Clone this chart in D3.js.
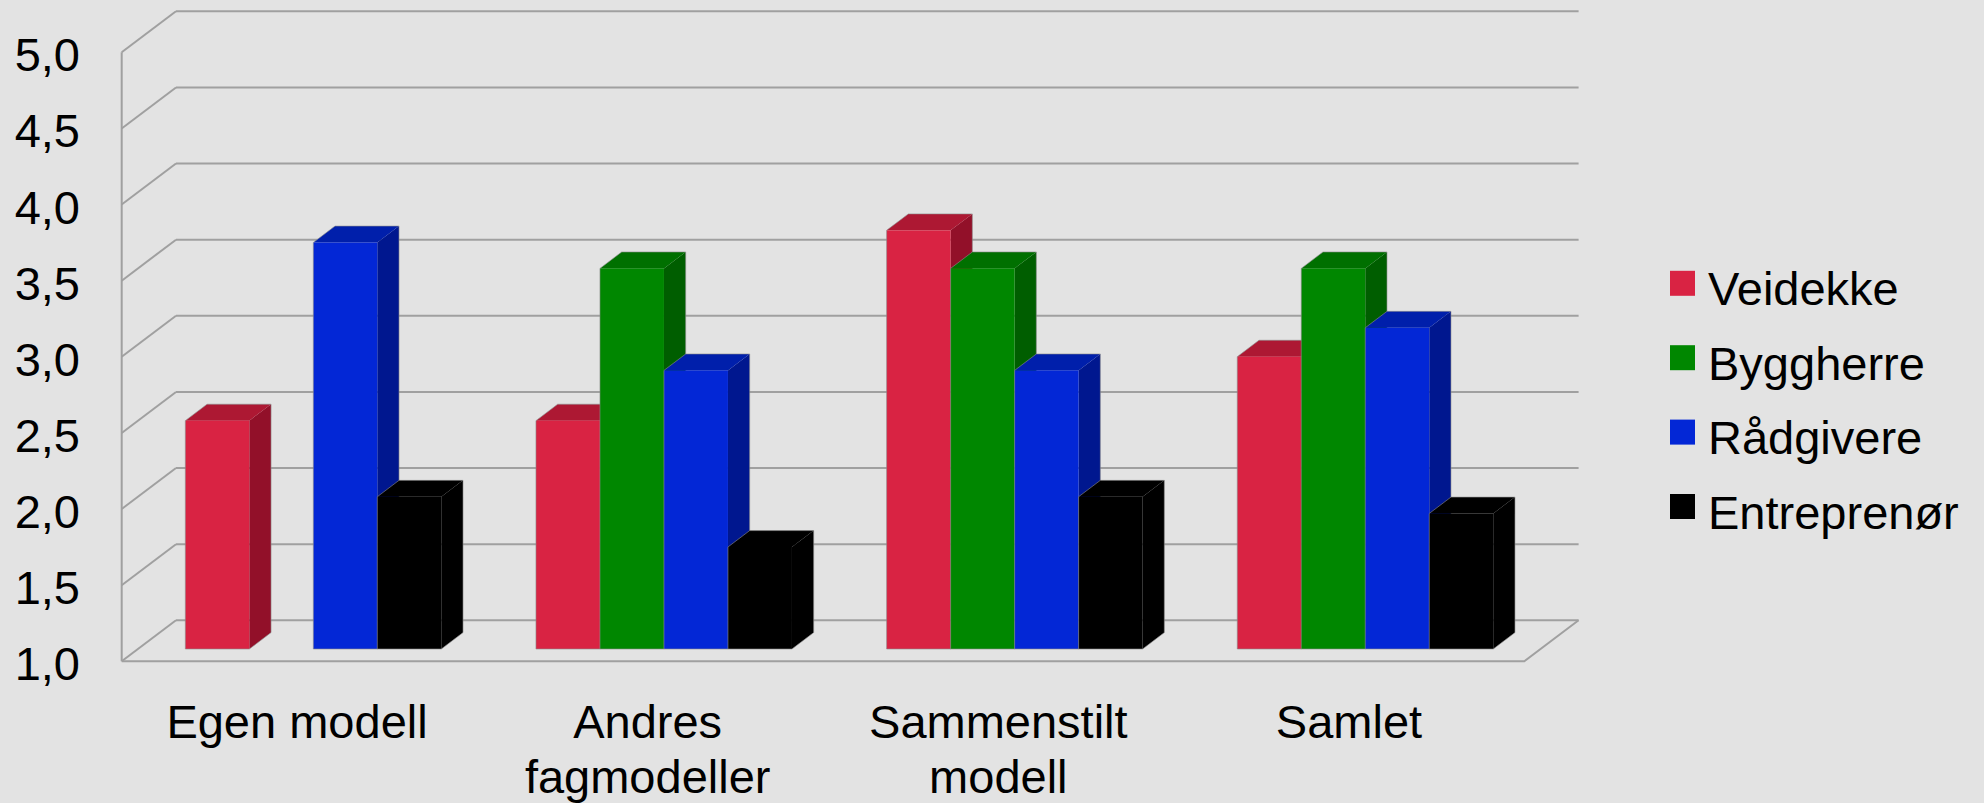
<!DOCTYPE html>
<html>
<head>
<meta charset="utf-8">
<script src="https://cdn.jsdelivr.net/npm/d3@7"></script>
<style>
  html, body { margin: 0; padding: 0; background: #e3e3e3; }
  svg { display: block; font-family: "Liberation Sans", Arial, sans-serif; }
</style>
</head>
<body>
<svg id="chart" width="1984" height="803"></svg>
<script>
// Categories (two-line labels split on "\n") and series
const categories = ["Egen modell", "Andres\nfagmodeller", "Sammenstilt\nmodell", "Samlet"];
const seriesNames = ["Veidekke", "Byggherre", "Rådgivere", "Entreprenør"];

// Average scores per series, one entry per category (null = no bar)
const veidekke    = [2.50, 2.50, 3.75, 2.92];
const byggherre   = [null, 3.50, 3.50, 3.50];
const radgivere   = [3.67, 2.83, 2.83, 3.11];
const entreprenor = [2.00, 1.67, 2.00, 1.89];

const yTicks = [1.0, 1.5, 2.0, 2.5, 3.0, 3.5, 4.0, 4.5, 5.0];

const seriesValues = [veidekke, byggherre, radgivere, entreprenor];

// Face colours: front, top, side
const palette = {
  "Veidekke":    { front: "#d92343", top: "#ad1833", side: "#921029" },
  "Byggherre":   { front: "#008700", top: "#007000", side: "#005e00" },
  "Rådgivere":   { front: "#0327d6", top: "#001fab", side: "#00178f" },
  "Entreprenør": { front: "#000000", top: "#000000", side: "#000000" }
};

const svg = d3.select("#chart");

// Front plane geometry and depth vector of the 3D box
const frontLeft = 121.7, frontRight = 1524.3;
const depth = { dx: 54.3, dy: -41 };
const barFrontDepth = 0.3, barDepth = 0.4;

const y = d3.scaleLinear().domain([1, 5]).range([661.3, 52.3]);
const x = d3.scaleBand().domain(categories).range([frontLeft, frontRight]).padding(0);
const groupFrac = 0.73;

const gridColor = "#a0a0a0";
const grid = svg.append("g").attr("stroke", gridColor).attr("stroke-width", 2).attr("fill", "none");

// Back wall horizontal gridlines and left-wall diagonals
yTicks.forEach(v => {
  const yf = y(v);
  grid.append("line")
    .attr("x1", frontLeft).attr("y1", yf)
    .attr("x2", frontLeft + depth.dx).attr("y2", yf + depth.dy);
  grid.append("line")
    .attr("x1", frontLeft + depth.dx).attr("y1", yf + depth.dy)
    .attr("x2", frontRight + depth.dx).attr("y2", yf + depth.dy);
});
// Left wall front edge
grid.append("line")
  .attr("x1", frontLeft).attr("y1", y(5))
  .attr("x2", frontLeft).attr("y2", y(1));
// Floor front edge and right edge
grid.append("path")
  .attr("d", `M${frontLeft},${y(1)} L${frontRight},${y(1)} L${frontRight + depth.dx},${y(1) + depth.dy}`);

// Tick labels with decimal comma
const nb = d3.formatLocale({ decimal: ",", thousands: " ", grouping: [3], currency: ["", " kr"] });
const fmt = nb.format(".1f");
svg.append("g").selectAll("text")
  .data(yTicks)
  .join("text")
  .attr("x", 80)
  .attr("y", d => y(d) + 19)
  .attr("text-anchor", "end")
  .attr("font-size", 47)
  .attr("fill", "#000")
  .text(d => fmt(d));

// Bars: faces drawn left to right so each bar covers its left neighbour's side
const ox = depth.dx * barFrontDepth, oy = depth.dy * barFrontDepth;
const bdx = depth.dx * barDepth, bdy = depth.dy * barDepth;
const bars = svg.append("g");

categories.forEach((cat, ci) => {
  const bw = x.bandwidth();
  const center = x(cat) + bw / 2 + ox;
  const gw = bw * groupFrac;
  const x1 = d3.scaleBand().domain(seriesNames).range([center - gw / 2, center + gw / 2]).padding(0);
  seriesNames.forEach((s, si) => {
    const v = seriesValues[si][ci];
    if (v == null) return;
    const c = palette[s];
    const xl = x1(s), xr = xl + x1.bandwidth();
    const yb = y(1) + oy, yt = y(v) + oy;
    const g = bars.append("g");
    // side face
    g.append("path").attr("fill", c.side)
      .attr("d", `M${xr},${yt} L${xr + bdx},${yt + bdy} L${xr + bdx},${yb + bdy} L${xr},${yb} Z`);
    // top face
    g.append("path").attr("fill", c.top)
      .attr("d", `M${xl},${yt} L${xl + bdx},${yt + bdy} L${xr + bdx},${yt + bdy} L${xr},${yt} Z`);
    // front face
    g.append("rect").attr("fill", c.front)
      .attr("x", xl).attr("y", yt)
      .attr("width", xr - xl).attr("height", yb - yt);
    // thin outline around the silhouette
    g.append("path")
      .attr("fill", "none")
      .attr("stroke", "rgba(140,140,140,0.6)")
      .attr("stroke-width", 1)
      .attr("d", `M${xl},${yb} L${xl},${yt} L${xl + bdx},${yt + bdy} L${xr + bdx},${yt + bdy} L${xr + bdx},${yb + bdy} L${xr},${yb} Z`);
  });
});

// Category labels
const catLabels = svg.append("g").attr("font-size", 47).attr("fill", "#000").attr("text-anchor", "middle");
categories.forEach(cat => {
  const t = catLabels.append("text")
    .attr("x", x(cat) + x.bandwidth() / 2)
    .attr("y", 738.3);
  cat.split("\n").forEach((line, i) => {
    t.append("tspan")
      .attr("x", x(cat) + x.bandwidth() / 2)
      .attr("dy", i === 0 ? 0 : 55)
      .text(line);
  });
});

// Legend
const legend = svg.append("g");
const legendY = d3.scalePoint().domain(seriesNames).range([283.3, 506.5]);
seriesNames.forEach(s => {
  legend.append("rect")
    .attr("x", 1670).attr("y", legendY(s) - 12.5)
    .attr("width", 25).attr("height", 25)
    .attr("fill", palette[s].front);
  legend.append("text")
    .attr("x", 1708).attr("y", legendY(s) + 22)
    .attr("font-size", 47).attr("fill", "#000")
    .text(s);
});
</script>
</body>
</html>
